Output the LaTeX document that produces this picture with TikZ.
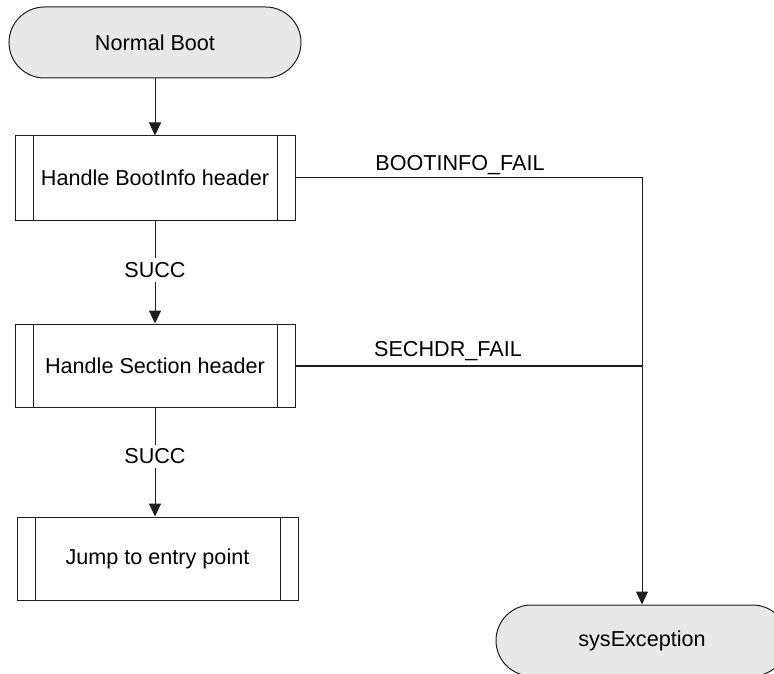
\documentclass[tikz,border=0pt]{standalone}
\usepackage{fontspec}
\setmainfont{Liberation Sans}
\usetikzlibrary{arrows.meta,shapes.misc,calc}
\definecolor{termfill}{RGB}{232,232,232}
\definecolor{lncol}{RGB}{30,30,30}
\begin{document}
\begin{tikzpicture}[x=1pt,y=-1pt,
  every node/.style={font=\fontsize{21.6}{26}\selectfont, text=black},
  terminal/.style={rounded rectangle, draw=lncol, line width=1pt, fill=termfill,
    minimum width=292pt, minimum height=71pt, inner sep=0pt},
  subproc/.style={rectangle, draw=lncol, line width=1pt, minimum width=280pt,
    minimum height=83pt, inner sep=0pt,
    path picture={
      \draw[lncol, line width=1pt]
        ([xshift=18pt]path picture bounding box.north west) -- ([xshift=18pt]path picture bounding box.south west)
        ([xshift=-18pt]path picture bounding box.north east) -- ([xshift=-18pt]path picture bounding box.south east);
    }},
  conn/.style={draw=lncol, line width=1pt},
  arr/.style={conn, -{Triangle[width=12pt,length=13pt]}},
  lbl/.style={fill=white, inner sep=4pt}
]
\useasboundingbox (0,0) rectangle (774,674);
\clip (0,0) rectangle (774,674);

\node[terminal] (nb) at (155,42.5) {Normal Boot};
\node[subproc, minimum height=84pt] (b1) at (155,178) {Handle BootInfo header};
\node[subproc] (b2) at (155,365.5) {Handle Section header};
\node[subproc, minimum width=281pt] (b3) at (157.5,558.5) {Jump to entry point};
\node[terminal] (sx) at (642,640.5) {sysException};

\draw[arr] (nb.south) -- (b1.north);
\draw[arr] (b1.south) -- node[lbl, pos=0.48] (s1) {SUCC} (b2.north);
\draw[arr] (b2.south) -- node[lbl, pos=0.45] (s2) {SUCC} (b2.south |- b3.north);

\coordinate (j1) at (b1.east -| sx.north);
\coordinate (j2) at (b2.east -| sx.north);
\draw[arr] (b1.east) -- (j1) -- (sx.north);
\draw[conn, line width=2pt] (b2.east) -- (j2);

\node[anchor=base] (lb1) at (460,171) {BOOTINFO\_FAIL};
\node[anchor=base] (lb2) at (448,356) {SECHDR\_FAIL};
\end{tikzpicture}
\end{document}
